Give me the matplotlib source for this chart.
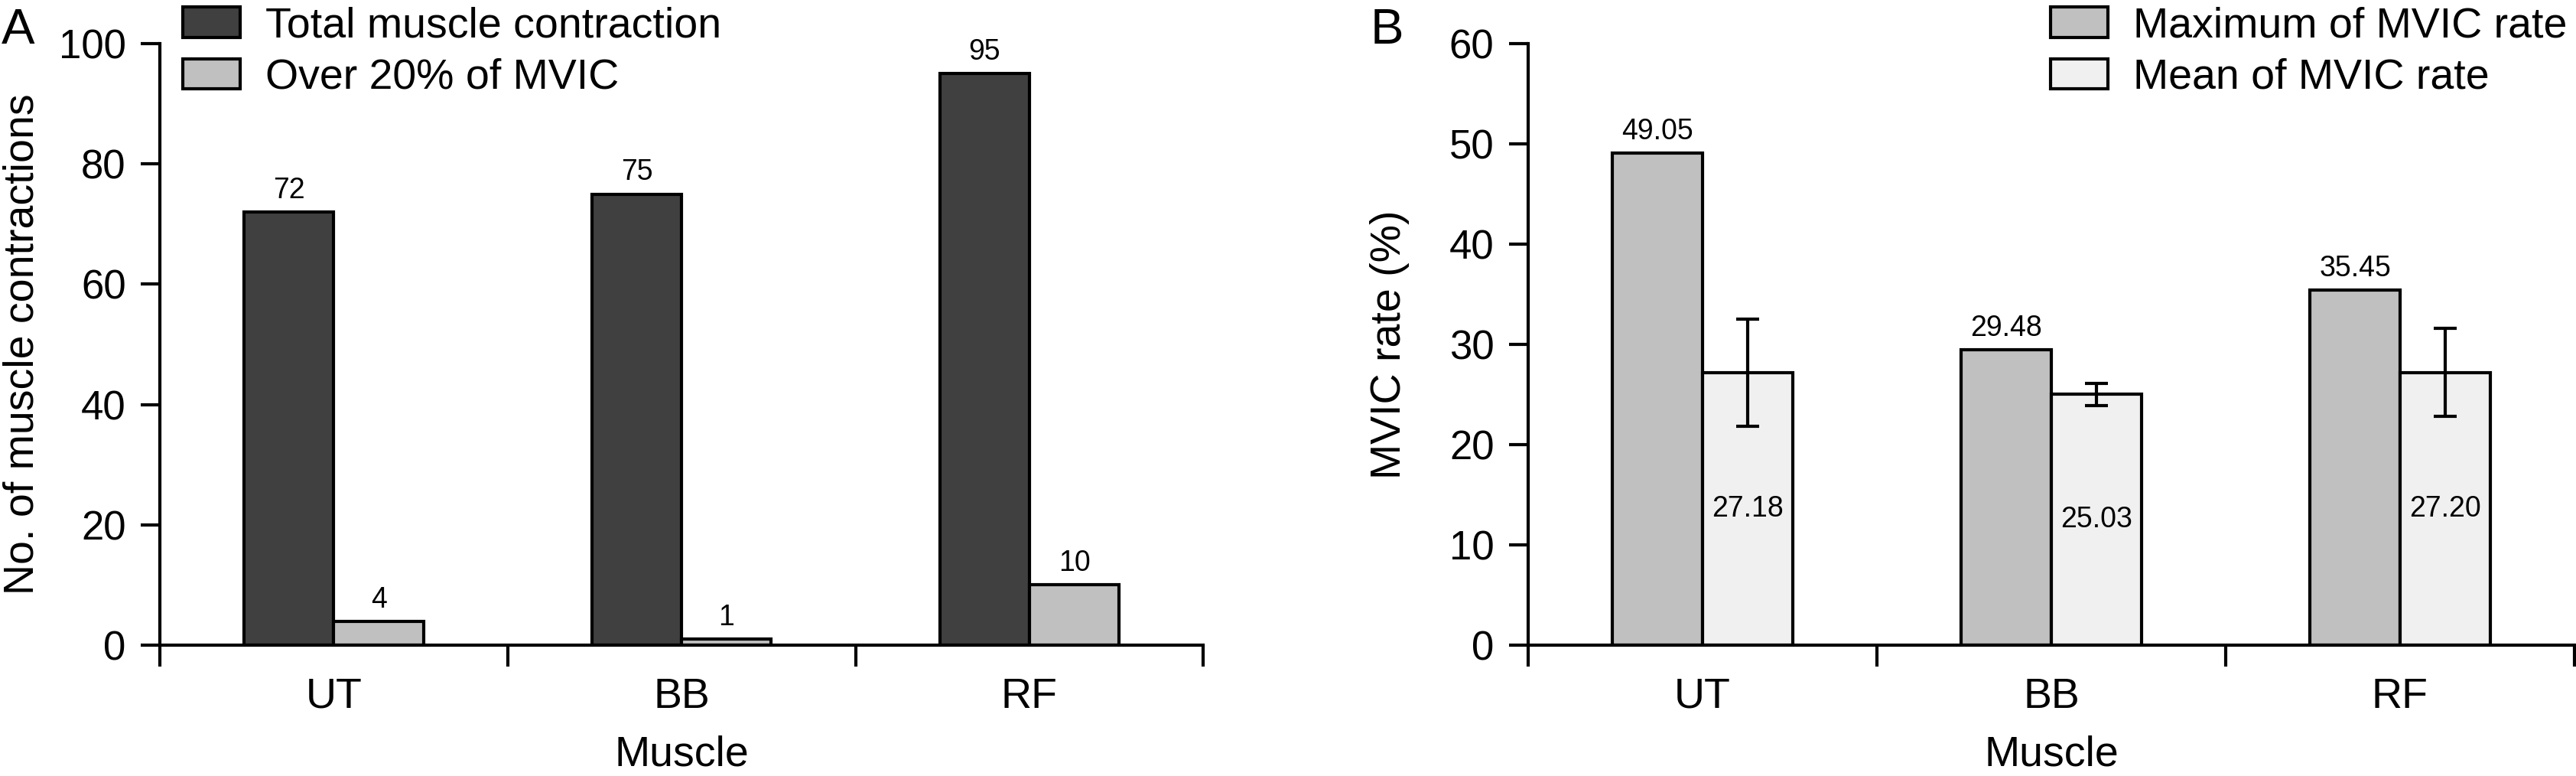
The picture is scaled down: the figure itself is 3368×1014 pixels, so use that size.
import matplotlib
matplotlib.use('Agg')
import matplotlib.pyplot as plt
import numpy as np

plt.rcParams['font.family'] = ['Liberation Sans', 'DejaVu Sans']

muscles = ['UT', 'BB', 'RF']
total_contr = [72, 75, 95]
over20 = [4, 1, 10]
max_mvic = [49.05, 29.48, 35.45]
mean_mvic = [27.18, 25.03, 27.20]
mean_err = [5.35, 1.1, 4.4]

C_DARK = '#404040'
C_MID = '#c0c0c0'
C_LIGHT = '#f0f0f0'
LW = 3
FS_TICK = 38
FS_CAT = 40
FS_VAL = 27

fig = plt.figure(figsize=(33.68, 10.14), dpi=100)
axA = fig.add_axes([0.0621, 0.1686, 0.405, 0.7752])
axB = fig.add_axes([0.5932, 0.1686, 0.4062, 0.7752])

x = np.arange(len(muscles)) + 0.5
w = 0.258


def style_axis(ax, ymax, step, ylabel):
    for s in ['top', 'right']:
        ax.spines[s].set_visible(False)
    for s in ['left', 'bottom']:
        ax.spines[s].set_linewidth(LW)
    ax.set_xlim(0, 3)
    ax.set_ylim(0, ymax)
    ax.set_yticks(np.arange(0, ymax + 1, step))
    # ticks at group borders, names in the middle
    ax.set_xticks([0, 1, 2, 3])
    ax.set_xticklabels([])
    ax.set_xticks(x, minor=True)
    ax.set_xticklabels(muscles, minor=True, fontsize=FS_CAT)
    ax.tick_params(axis='x', which='major', length=20, width=LW, direction='out')
    ax.tick_params(axis='x', which='minor', length=0, pad=30)
    ax.tick_params(axis='y', length=18, width=LW, labelsize=FS_TICK, pad=14)
    ax.set_xlabel('Muscle', fontsize=FS_CAT, labelpad=17)
    ax.set_ylabel(ylabel, fontsize=40)
    ax.yaxis.set_label_coords(-0.113, 0.5)


# ---- A ----
axA.bar(x - w / 2, total_contr, w, color=C_DARK, edgecolor='black', linewidth=LW,
        label='Total muscle contraction')
axA.bar(x + w / 2, over20, w, color=C_MID, edgecolor='black', linewidth=LW,
        label='Over 20% of MVIC')
for xi, v in zip(x - w / 2, total_contr):
    axA.annotate(str(v), (xi, v), xytext=(0, 13), textcoords='offset points',
                 ha='center', va='baseline', fontsize=FS_VAL)
for xi, v in zip(x + w / 2, over20):
    axA.annotate(str(v), (xi, v), xytext=(0, 13), textcoords='offset points',
                 ha='center', va='baseline', fontsize=FS_VAL)
style_axis(axA, 100, 20, 'No. of muscle contractions')
axA.legend(loc='upper left', bbox_to_anchor=(0.022, 1.062), frameon=False, fontsize=40,
           handlelength=1.35, handleheight=0.72, handletextpad=0.6, labelspacing=0.28,
           borderpad=0, borderaxespad=0)

# ---- B ----
axB.bar(x - w / 2, max_mvic, w, color=C_MID, edgecolor='black', linewidth=LW,
        label='Maximum of MVIC rate')
axB.bar(x + w / 2, mean_mvic, w, color=C_LIGHT, edgecolor='black', linewidth=LW,
        label='Mean of MVIC rate')
axB.errorbar(x + w / 2, mean_mvic, yerr=mean_err, fmt='none', ecolor='black',
             elinewidth=LW, capsize=11, capthick=LW)
for xi, v in zip(x - w / 2, max_mvic):
    axB.annotate(f'{v:.2f}', (xi, v), xytext=(0, 13), textcoords='offset points',
                 ha='center', va='baseline', fontsize=FS_VAL)
for xi, v in zip(x + w / 2, mean_mvic):
    axB.text(xi, v / 2, f'{v:.2f}', ha='center', va='center', fontsize=FS_VAL)
style_axis(axB, 60, 10, 'MVIC rate (%)')
axB.legend(loc='upper left', bbox_to_anchor=(0.499, 1.062), frameon=False, fontsize=40,
           handlelength=1.35, handleheight=0.72, handletextpad=0.6, labelspacing=0.28,
           borderpad=0, borderaxespad=0)

fig.text(0.0006, 0.9438, 'A', fontsize=47, ha='left', va='baseline')
fig.text(0.532, 0.9438, 'B', fontsize=47, ha='left', va='baseline')

fig.savefig('out.png', dpi=100)
